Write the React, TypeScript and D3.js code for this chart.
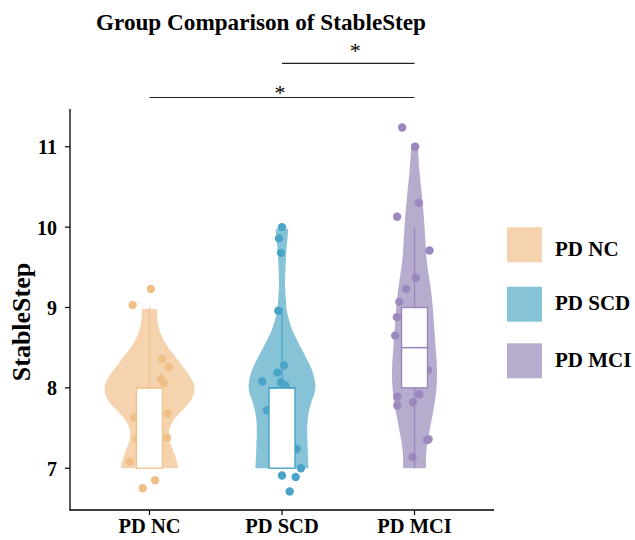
import React from "react";
import * as d3 from "d3";

const categories = ["PD NC", "PD SCD", "PD MCI"];
const yTicks = [7, 8, 9, 10, 11];

// observed points (value, horizontal jitter in category units)
const ncValues = [9.23, 9.03, 8.36, 8.26, 8.11, 8.06, 7.63, 7.68, 7.36, 7.38, 7.08, 6.85, 6.75];
const ncJitter = [0.01, -0.127, 0.094, 0.147, 0.089, 0.109, -0.117, 0.137, -0.097, 0.132, -0.149, 0.042, -0.051];
const scdValues = [10.0, 9.86, 9.68, 8.96, 8.28, 8.19, 8.08, 8.07, 8.03, 7.72, 7.24, 7.0, 6.91, 6.89, 6.71];
const scdJitter = [0, -0.023, -0.008, -0.028, 0.015, -0.035, -0.149, -0.008, 0.025, -0.113, 0.111, 0.143, 0, 0.103, 0.058];
const mciValues = [11.24, 11.0, 10.3, 10.13, 9.71, 9.37, 9.23, 9.07, 8.88, 8.65, 8.22, 7.92, 7.89, 7.82, 7.78, 7.35, 7.36, 7.14];
const mciJitter = [-0.093, 0.005, 0.033, -0.131, 0.113, 0.011, -0.063, -0.115, -0.133, -0.146, 0.101, 0.035, -0.13, -0.012, -0.13, 0.094, 0.106, -0.015];

// violin density profiles (value, relative density)
const ncDensityAt = [7.0, 7.1, 7.2, 7.3, 7.4, 7.5, 7.6, 7.7, 7.8, 7.9, 8.0, 8.1, 8.2, 8.3, 8.4, 8.5, 8.6, 8.7, 8.8, 8.9, 8.98];
const ncDensity = [0.64, 0.6, 0.54, 0.47, 0.43, 0.45, 0.54, 0.69, 0.86, 0.97, 1.0, 0.94, 0.83, 0.69, 0.56, 0.42, 0.31, 0.23, 0.19, 0.17, 0.17];
const scdDensityAt = [7.0, 7.25, 7.5, 7.65, 7.8, 7.95, 8.05, 8.2, 8.35, 8.5, 8.6, 8.7, 8.8, 8.95, 9.1, 9.3, 9.5, 9.7, 9.85, 9.98];
const scdDensity = [0.59, 0.57, 0.56, 0.58, 0.64, 0.73, 0.74, 0.68, 0.56, 0.42, 0.33, 0.24, 0.18, 0.11, 0.085, 0.067, 0.078, 0.095, 0.12, 0.14];
const mciDensityAt = [7.0, 7.15, 7.3, 7.45, 7.6, 7.75, 7.9, 8.05, 8.2, 8.35, 8.5, 8.7, 8.9, 9.1, 9.3, 9.5, 9.7, 9.9, 10.1, 10.3, 10.5, 10.7, 10.9, 11.04];
const mciDensity = [0.255, 0.255, 0.28, 0.33, 0.38, 0.43, 0.47, 0.495, 0.5, 0.49, 0.47, 0.445, 0.42, 0.39, 0.345, 0.29, 0.255, 0.235, 0.21, 0.18, 0.145, 0.11, 0.085, 0.067];

// box plot statistics
const boxLow = [7, 7, 7];
const boxQ1 = [7, 7, 8];
const boxMedian = [8, 8, 8.5];
const boxQ3 = [8, 8, 9];
const boxHigh = [9, 9, 10];

// significance brackets
const bracketFrom = ["PD SCD", "PD NC"];
const bracketTo = ["PD MCI", "PD MCI"];
const bracketLabel = ["*", "*"];

const fillColors = ["#F5D3AE", "#86C3D7", "#B8ACCE"];
const pointColors = ["#EFBF88", "#49A4C8", "#9B88BE"];
const boxColors = ["#F0C48F", "#4AA3C6", "#9986BC"];

const FONT = "'Liberation Serif', 'Times New Roman', serif";

export default function App() {
  const x = d3.scalePoint<string>().domain(categories).range([70, 494]).padding(0.6);
  const step = x.step();
  const y = d3.scaleLinear().domain([6.48, 11.47]).range([510, 109]);
  const w = d3.scaleLinear().domain([0, 1]).range([0, 45]);

  const groups = [
    { values: ncValues, jitter: ncJitter, at: ncDensityAt, dens: ncDensity },
    { values: scdValues, jitter: scdJitter, at: scdDensityAt, dens: scdDensity },
    { values: mciValues, jitter: mciJitter, at: mciDensityAt, dens: mciDensity },
  ];

  const boxHalf = 13;

  return (
    <svg width={635} height={540} style={{ position: "absolute", left: 0, top: 0, background: "#fff" }}
      fontFamily={FONT}>
      <rect x={0} y={0} width={635} height={540} fill="#fff" />
      <text x={261} y={30} textAnchor="middle" fontSize={23.2} fontWeight="bold">Group Comparison of StableStep</text>

      {groups.map((g, i) => {
        const cx = x(categories[i])!;
        const pts = g.at.map((v, k) => [v, g.dens[k]] as [number, number]);
        const area = d3.area<[number, number]>()
          .y((d) => y(d[0]))
          .x0((d) => cx - w(d[1]))
          .x1((d) => cx + w(d[1]))
          .curve(d3.curveCatmullRom);
        return (
          <g key={"v" + i}>
            <path d={area(pts) || ""} fill={fillColors[i]} />
            {g.values.map((v, k) => (
              <circle key={k} cx={cx + g.jitter[k] * step} cy={y(v)} r={4.2} fill={pointColors[i]} />
            ))}
            <line x1={cx} x2={cx} y1={y(boxQ3[i])} y2={y(boxHigh[i])} stroke={boxColors[i]} strokeWidth={1.3} />
            <line x1={cx} x2={cx} y1={y(boxQ1[i])} y2={y(boxLow[i])} stroke={boxColors[i]} strokeWidth={1.3} />
            <rect x={cx - boxHalf} width={boxHalf * 2} y={y(boxQ3[i])} height={y(boxQ1[i]) - y(boxQ3[i])}
              fill="#fff" stroke={boxColors[i]} strokeWidth={1.4} />
            <line x1={cx - boxHalf} x2={cx + boxHalf} y1={y(boxMedian[i])} y2={y(boxMedian[i])} stroke={boxColors[i]} strokeWidth={1.6} />
          </g>
        );
      })}

      {/* axes */}
      <line x1={70} x2={70} y1={109} y2={510.5} stroke="#000" strokeWidth={1.3} />
      <line x1={69.5} x2={494} y1={510} y2={510} stroke="#000" strokeWidth={1.3} />
      {yTicks.map((t) => (
        <g key={t}>
          <line x1={65} x2={70} y1={y(t)} y2={y(t)} stroke="#000" strokeWidth={1.2} />
          <text x={57} y={y(t) + 7.5} textAnchor="end" fontSize={20} fontWeight="bold">{t}</text>
        </g>
      ))}
      {categories.map((c) => (
        <g key={c}>
          <line x1={x(c)} x2={x(c)} y1={510} y2={515} stroke="#000" strokeWidth={1.2} />
          <text x={x(c)} y={533} textAnchor="middle" fontSize={20.5} fontWeight="bold">{c}</text>
        </g>
      ))}
      <text transform={`translate(30,322) rotate(-90)`} textAnchor="middle" fontSize={26} fontWeight="bold">StableStep</text>

      {/* significance */}
      {bracketFrom.map((f, i) => {
        const ly = [63.3, 97.5][i];
        const ty = [58, 100][i];
        const dx = [7, -2][i];
        const x1 = x(f)!, x2 = x(bracketTo[i])!;
        return (
          <g key={"b" + i}>
            <line x1={x1} x2={x2} y1={ly} y2={ly} stroke="#222" strokeWidth={1.2} />
            <text x={(x1 + x2) / 2 + dx} y={ty} textAnchor="middle" fontSize={22}>{bracketLabel[i]}</text>
          </g>
        );
      })}

      {/* legend */}
      {categories.map((c, i) => {
        const ly = [227.3, 286.7, 343.3][i];
        const ty = [255.7, 310, 366.7][i];
        return (
          <g key={"l" + c}>
            <rect x={507} y={ly} width={35} height={35} fill={fillColors[i]} />
            <text x={555} y={ty} fontSize={21} fontWeight="bold">{c}</text>
          </g>
        );
      })}
    </svg>
  );
}
